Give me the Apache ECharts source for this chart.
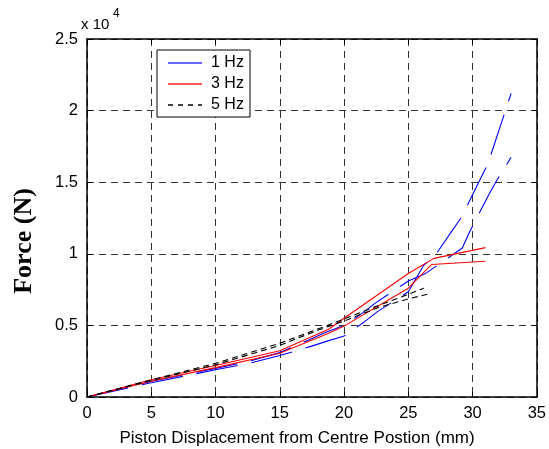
<!DOCTYPE html>
<html><head><meta charset="utf-8">
<script src="https://cdn.jsdelivr.net/npm/echarts@6/dist/echarts.min.js"></script>
<style>html,body{margin:0;padding:0;background:#fff}#c{width:549px;height:449px}</style>
</head><body><div id="c"></div>
<script>
// Force in units of 10^4 N, displacement in mm
const xTicks = [0,5,10,15,20,25,30,35];
const yTicks = [0,0.5,1,1.5,2,2.5];
const legendNames = ['1 Hz','3 Hz','5 Hz'];

const hz1aX = [0,5,10,12.6,15,17.3,18.5,20,21.6,22.6,25,26.2,27.1,28.4,29.1,30.7,31.2,32.3,33];
const hz1aY = [0,0.10,0.19,0.235,0.29,0.35,0.385,0.426,0.526,0.596,0.735,0.92,0.99,1.16,1.25,1.54,1.63,1.93,2.12];
const hz1bX = [0,5,10,12.6,15,17.3,18.4,20,21.4,22.4,25,26.3,29.2,29.7,31.3,31.9,33];
const hz1bY = [0,0.11,0.20,0.25,0.31,0.40,0.445,0.50,0.584,0.654,0.81,0.86,1.04,1.14,1.42,1.515,1.674];

const hz3aX = [0,5,10,15,18.8,20,25,27,31];
const hz3aY = [0,0.12,0.22,0.323,0.473,0.55,0.862,0.968,1.043];
const hz3bX = [0,5,10,15,18.8,20,25,26.8,31];
const hz3bY = [0,0.11,0.205,0.305,0.445,0.495,0.76,0.925,0.948];

const hz5aX = [0,5,10,15,18.7,20,22.7,24.5,26.2];
const hz5aY = [0,0.12,0.235,0.375,0.50,0.545,0.64,0.70,0.76];
const hz5bX = [0,5,10,15,18,20,22.7,25,26.6];
const hz5bY = [0,0.115,0.225,0.36,0.468,0.53,0.626,0.685,0.72];

const pairs = (xs, ys) => xs.map((x, i) => [x, ys[i]]);

const chart = echarts.init(document.getElementById('c'), null, {renderer:'canvas'});
const font = 'Liberation Sans';
const gridLine = {show:true, lineStyle:{color:'#333', type:[7,5], width:1}};
const mkLine = (name, data, color, type) => ({
  name, type:'line', data, symbol:'none', smooth:false, silent:true,
  lineStyle:{color, width:1.1, type}, itemStyle:{color}, z:5
});
const axisCommon = {
  type:'value',
  axisLine:{show:true, onZero:false, lineStyle:{color:'#000', width:1.5}},
  axisTick:{show:true, inside:true, length:5, lineStyle:{color:'#000'}}
};
const legendColors = ['#3333ff','#ff2222','#000000'];
const legendDash = [null,null,[5,5]];
const legendGraphics = [{type:'rect', shape:{x:157, y:50, width:93, height:67},
  style:{fill:'#fff', stroke:'#000', lineWidth:1}, z:100}];
legendNames.forEach((n, i) => {
  const y = 63 + i * 21;
  legendGraphics.push({type:'line', shape:{x1:168, y1:y, x2:202, y2:y},
    style:{stroke:legendColors[i], lineWidth:1.6, lineDash:legendDash[i]}, z:101});
  legendGraphics.push({type:'text', x:211, y:y, style:{text:n, fill:'#000',
    font:'16px "Liberation Sans"', textVerticalAlign:'middle'}, z:101});
});
chart.setOption({
  animation:false,
  backgroundColor:'#fff',
  grid:{left:87, right:10, top:39, bottom:52, show:false},
  xAxis:[Object.assign({}, axisCommon, {
    min:xTicks[0], max:xTicks[xTicks.length-1], interval:5, position:'bottom',
    axisLabel:{color:'#000', fontFamily:font, fontSize:16.5, margin:8},
    splitLine:gridLine
  }), Object.assign({}, axisCommon, {
    min:xTicks[0], max:xTicks[xTicks.length-1], interval:5, position:'top',
    axisLabel:{show:false}, splitLine:{show:false}
  })],
  yAxis:[Object.assign({}, axisCommon, {
    min:yTicks[0], max:yTicks[yTicks.length-1], interval:0.5, position:'left',
    axisLabel:{color:'#000', fontFamily:font, fontSize:16.5, margin:9},
    splitLine:gridLine
  }), Object.assign({}, axisCommon, {
    min:yTicks[0], max:yTicks[yTicks.length-1], interval:0.5, position:'right',
    axisLabel:{show:false}, splitLine:{show:false}
  })],
  series:[
    mkLine('1 Hz', pairs(hz1aX, hz1aY), '#0000ff', [42,14]),
    mkLine('1 Hz', pairs(hz1bX, hz1bY), '#0000ff', [42,14]),
    mkLine('3 Hz', pairs(hz3aX, hz3aY), '#ff0000', 'solid'),
    mkLine('3 Hz', pairs(hz3bX, hz3bY), '#ff0000', 'solid'),
    mkLine('5 Hz', pairs(hz5aX, hz5aY), '#000000', [6,4]),
    mkLine('5 Hz', pairs(hz5bX, hz5bY), '#000000', [6,4])
  ],
  graphic:[
    {type:'text', x:81, y:25, style:{
      text:'x 10', fill:'#000', font:'15px "Liberation Sans"', textVerticalAlign:'middle'
    }},
    {type:'text', x:113, y:14, style:{
      text:'4', fill:'#000', font:'12px "Liberation Sans"', textVerticalAlign:'middle'
    }},
    {type:'text', x:297, y:438, style:{
      text:'Piston Displacement from Centre Postion (mm)', fill:'#000',
      font:'17px "Liberation Sans"', textAlign:'center', textVerticalAlign:'middle'
    }},
    {type:'text', x:24, y:241, rotation:Math.PI/2, style:{
      text:'Force (N)', fill:'#000', font:'bold 26px "Liberation Serif"',
      textAlign:'center', textVerticalAlign:'middle'
    }}
  ].concat(legendGraphics)
});
</script></body></html>
